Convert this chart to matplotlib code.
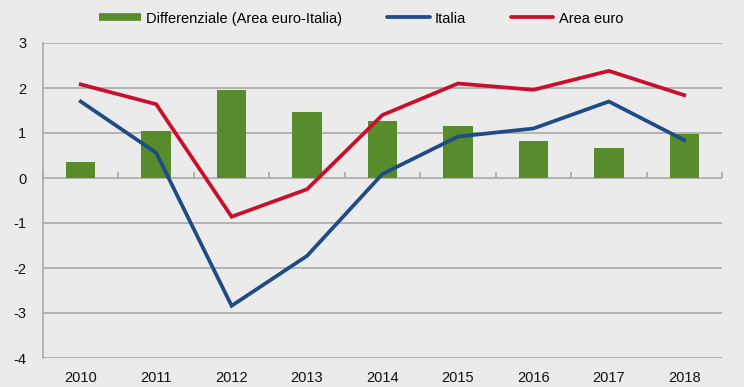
import matplotlib
matplotlib.use("Agg")
import matplotlib.pyplot as plt
from matplotlib.lines import Line2D
import numpy as np

years = ["2010", "2011", "2012", "2013", "2014", "2015", "2016", "2017", "2018"]
differenziale = [0.36, 1.05, 1.96, 1.47, 1.27, 1.16, 0.82, 0.67, 0.97]
italia = [1.70, 0.56, -2.84, -1.73, 0.09, 0.92, 1.10, 1.70, 0.84]
area_euro = [2.08, 1.64, -0.86, -0.25, 1.40, 2.10, 1.96, 2.38, 1.84]
y_ticks = [3, 2, 1, 0, -1, -2, -3, -4]

GREEN = "#578b2b"
BLUE = "#1f4c85"
RED = "#c8102e"
BG = "#ebebeb"
GRID = "#a9a9a9"

plt.rcParams['font.family'] = ['Liberation Sans', 'DejaVu Sans']
plt.rcParams['axes.unicode_minus'] = False

fig = plt.figure(figsize=(7.44, 3.87), dpi=100, facecolor=BG)
ax = fig.add_axes([43/744, 29/387, 679/744, 315/387])
ax.set_facecolor(BG)

x = np.arange(len(years))
ymin, ymax = -4, 3
ax.set_ylim(ymin, ymax)
ax.set_xlim(-0.5, len(years) - 0.5)

ax.set_yticks(y_ticks)
ax.yaxis.grid(True, color=GRID, lw=1.2)
ax.set_axisbelow(True)

ax.bar(x, differenziale, width=0.39, color=GREEN, zorder=2)
ax.plot(x, italia, color=BLUE, lw=2.7, zorder=3, solid_joinstyle='miter')
ax.plot(x, area_euro, color=RED, lw=2.7, zorder=3, solid_joinstyle='miter')

for s in ['top', 'right', 'bottom']:
    ax.spines[s].set_visible(False)
ax.spines['left'].set_color(GRID)
ax.spines['left'].set_linewidth(1.2)

ax.set_xticks(x)
ax.set_xticklabels(years)
ax.tick_params(axis='x', length=0, pad=9, labelsize=10.5, colors='#111111')
ax.tick_params(axis='y', length=0, pad=12, labelsize=10.5, colors='#111111')

# category boundary ticks on zero line
sec = ax.secondary_xaxis((0 - ymin) / (ymax - ymin))
sec.set_xticks(np.arange(len(years) + 1) - 0.5)
sec.set_xticklabels([])
sec.tick_params(length=4, width=1.2, color=GRID, labelbottom=False, labeltop=False,
                direction='out')
for s in sec.spines.values():
    s.set_visible(False)

handles = [
    Line2D([], [], color=GREEN, lw=5.5, solid_capstyle='butt'),
    Line2D([], [], color=BLUE, lw=2.7, solid_capstyle='round'),
    Line2D([], [], color=RED, lw=2.7, solid_capstyle='round'),
]
labels = ["Differenziale (Area euro-Italia)", "Italia", "Area euro"]
fig.legend(handles, labels, loc='center', bbox_to_anchor=(0.485, 0.952), ncol=3,
           frameon=False, fontsize=10.5, handlelength=2.9, handletextpad=0.35,
           columnspacing=3.1)

fig.savefig("out.png", dpi=100, facecolor=BG)
